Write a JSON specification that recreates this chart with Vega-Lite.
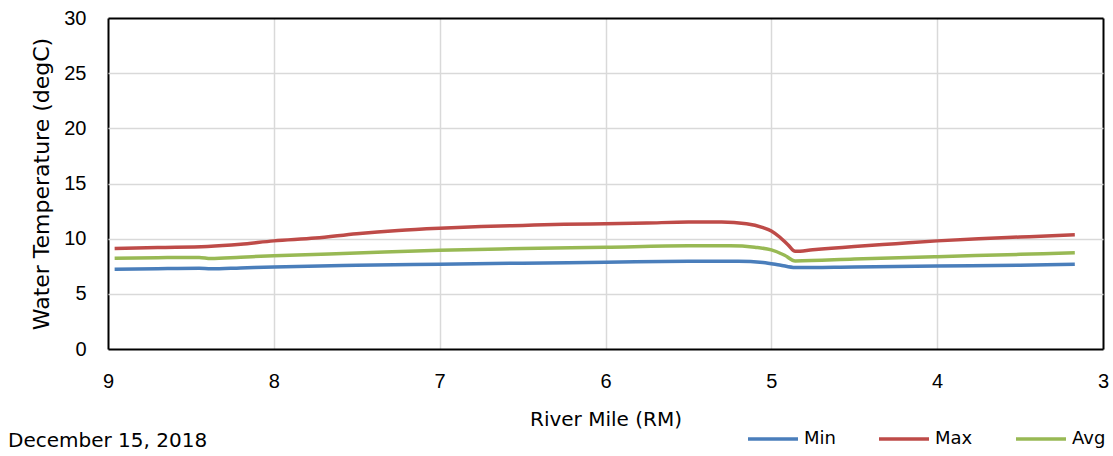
{
  "$schema": "https://vega.github.io/schema/vega-lite/v6.json",
  "autosize": "none",
  "width": 995,
  "height": 331,
  "padding": {"left": 108, "top": 18, "right": 10, "bottom": 107},
  "background": "white",
  "config": {
    "font": "Liberation Sans",
    "view": {"stroke": null}
  },
  "title": {
    "text": "December 15, 2018",
    "orient": "bottom",
    "anchor": "start",
    "frame": "group",
    "dx": -100,
    "offset": 12,
    "dy": -29,
    "fontSize": 20,
    "fontWeight": "normal",
    "color": "black",
    "font": "DejaVu Sans"
  },
  "data": {
    "values": [
      {"rm": 8.96, "series": "Min", "t": 7.22},
      {"rm": 8.7, "series": "Min", "t": 7.28},
      {"rm": 8.45, "series": "Min", "t": 7.32},
      {"rm": 8.38, "series": "Min", "t": 7.27},
      {"rm": 8.2, "series": "Min", "t": 7.35},
      {"rm": 8.0, "series": "Min", "t": 7.44},
      {"rm": 7.5, "series": "Min", "t": 7.58},
      {"rm": 7.0, "series": "Min", "t": 7.68},
      {"rm": 6.5, "series": "Min", "t": 7.78},
      {"rm": 6.0, "series": "Min", "t": 7.86},
      {"rm": 5.5, "series": "Min", "t": 7.95},
      {"rm": 5.2, "series": "Min", "t": 7.96},
      {"rm": 5.05, "series": "Min", "t": 7.85},
      {"rm": 4.95, "series": "Min", "t": 7.62},
      {"rm": 4.856, "series": "Min", "t": 7.38},
      {"rm": 4.5, "series": "Min", "t": 7.44},
      {"rm": 4.0, "series": "Min", "t": 7.52},
      {"rm": 3.5, "series": "Min", "t": 7.6},
      {"rm": 3.17, "series": "Min", "t": 7.68},
      {"rm": 8.96, "series": "Max", "t": 9.1},
      {"rm": 8.7, "series": "Max", "t": 9.2},
      {"rm": 8.4, "series": "Max", "t": 9.3},
      {"rm": 8.2, "series": "Max", "t": 9.5},
      {"rm": 8.0, "series": "Max", "t": 9.8},
      {"rm": 7.75, "series": "Max", "t": 10.05},
      {"rm": 7.5, "series": "Max", "t": 10.45},
      {"rm": 7.25, "series": "Max", "t": 10.75},
      {"rm": 7.0, "series": "Max", "t": 10.95},
      {"rm": 6.75, "series": "Max", "t": 11.1},
      {"rm": 6.5, "series": "Max", "t": 11.2},
      {"rm": 6.25, "series": "Max", "t": 11.3},
      {"rm": 6.0, "series": "Max", "t": 11.35},
      {"rm": 5.75, "series": "Max", "t": 11.42},
      {"rm": 5.5, "series": "Max", "t": 11.5},
      {"rm": 5.3, "series": "Max", "t": 11.5},
      {"rm": 5.15, "series": "Max", "t": 11.35},
      {"rm": 5.05, "series": "Max", "t": 11.0},
      {"rm": 5.0, "series": "Max", "t": 10.7},
      {"rm": 4.95, "series": "Max", "t": 10.15},
      {"rm": 4.9, "series": "Max", "t": 9.45},
      {"rm": 4.856, "series": "Max", "t": 8.85},
      {"rm": 4.75, "series": "Max", "t": 9.0},
      {"rm": 4.5, "series": "Max", "t": 9.3},
      {"rm": 4.25, "series": "Max", "t": 9.55},
      {"rm": 4.0, "series": "Max", "t": 9.8},
      {"rm": 3.75, "series": "Max", "t": 10.0},
      {"rm": 3.5, "series": "Max", "t": 10.15},
      {"rm": 3.17, "series": "Max", "t": 10.35},
      {"rm": 8.96, "series": "Avg", "t": 8.22},
      {"rm": 8.7, "series": "Avg", "t": 8.28},
      {"rm": 8.45, "series": "Avg", "t": 8.3},
      {"rm": 8.38, "series": "Avg", "t": 8.2},
      {"rm": 8.2, "series": "Avg", "t": 8.32},
      {"rm": 8.0, "series": "Avg", "t": 8.45},
      {"rm": 7.5, "series": "Avg", "t": 8.7},
      {"rm": 7.0, "series": "Avg", "t": 8.95},
      {"rm": 6.5, "series": "Avg", "t": 9.1},
      {"rm": 6.0, "series": "Avg", "t": 9.22},
      {"rm": 5.5, "series": "Avg", "t": 9.35},
      {"rm": 5.25, "series": "Avg", "t": 9.35},
      {"rm": 5.1, "series": "Avg", "t": 9.22},
      {"rm": 5.0, "series": "Avg", "t": 8.98},
      {"rm": 4.92, "series": "Avg", "t": 8.5},
      {"rm": 4.856, "series": "Avg", "t": 7.98},
      {"rm": 4.5, "series": "Avg", "t": 8.15},
      {"rm": 4.0, "series": "Avg", "t": 8.37},
      {"rm": 3.5, "series": "Avg", "t": 8.58},
      {"rm": 3.17, "series": "Avg", "t": 8.73}
    ]
  },
  "mark": {"type": "line", "interpolate": "monotone", "strokeWidth": 3.5},
  "encoding": {
    "x": {
      "field": "rm",
      "type": "quantitative",
      "scale": {"domain": [9, 3], "nice": false},
      "axis": {
        "title": "River Mile (RM)",
        "titleFont": "DejaVu Sans",
        "titleFontSize": 20,
        "titleFontWeight": "normal",
        "titleColor": "black",
        "titlePadding": 18,
        "values": [9, 8, 7, 6, 5, 4, 3],
        "labelFontSize": 20,
        "labelColor": "black",
        "labelPadding": 22,
        "ticks": false,
        "domain": false,
        "gridColor": {"condition": {"test": "datum.value == 9 || datum.value == 3", "value": "black"}, "value": "#d9d9d9"},
        "gridWidth": {"condition": {"test": "datum.value == 9 || datum.value == 3", "value": 2}, "value": 1.5},
        "labelFlush": false
      }
    },
    "y": {
      "field": "t",
      "type": "quantitative",
      "scale": {"domain": [0, 30], "nice": false},
      "axis": {
        "title": "Water Temperature  (degC)",
        "titleFont": "DejaVu Sans",
        "titleFontSize": 22,
        "titleFontWeight": "normal",
        "titleColor": "black",
        "titlePadding": 10,
        "values": [0, 5, 10, 15, 20, 25, 30],
        "labelFontSize": 20,
        "labelColor": "black",
        "labelPadding": 22,
        "ticks": false,
        "domain": false,
        "gridColor": {"condition": {"test": "datum.value == 0 || datum.value == 30", "value": "black"}, "value": "#d9d9d9"},
        "gridWidth": {"condition": {"test": "datum.value == 0 || datum.value == 30", "value": 2}, "value": 1.5}
      }
    },
    "color": {
      "field": "series",
      "type": "nominal",
      "sort": ["Min", "Max", "Avg"],
      "scale": {"domain": ["Min", "Max", "Avg"], "range": ["#4a7ebb", "#be4b48", "#98b954"]},
      "legend": {
        "title": null,
        "orient": "none",
        "direction": "horizontal",
        "legendX": 638,
        "legendY": 394,
        "symbolType": "stroke",
        "symbolSize": 2500,
        "symbolStrokeWidth": 3.5,
        "labelFont": "DejaVu Sans",
        "labelFontSize": 18,
        "labelColor": "black",
        "labelOffset": 4,
        "columnPadding": 36
      }
    }
  }
}
